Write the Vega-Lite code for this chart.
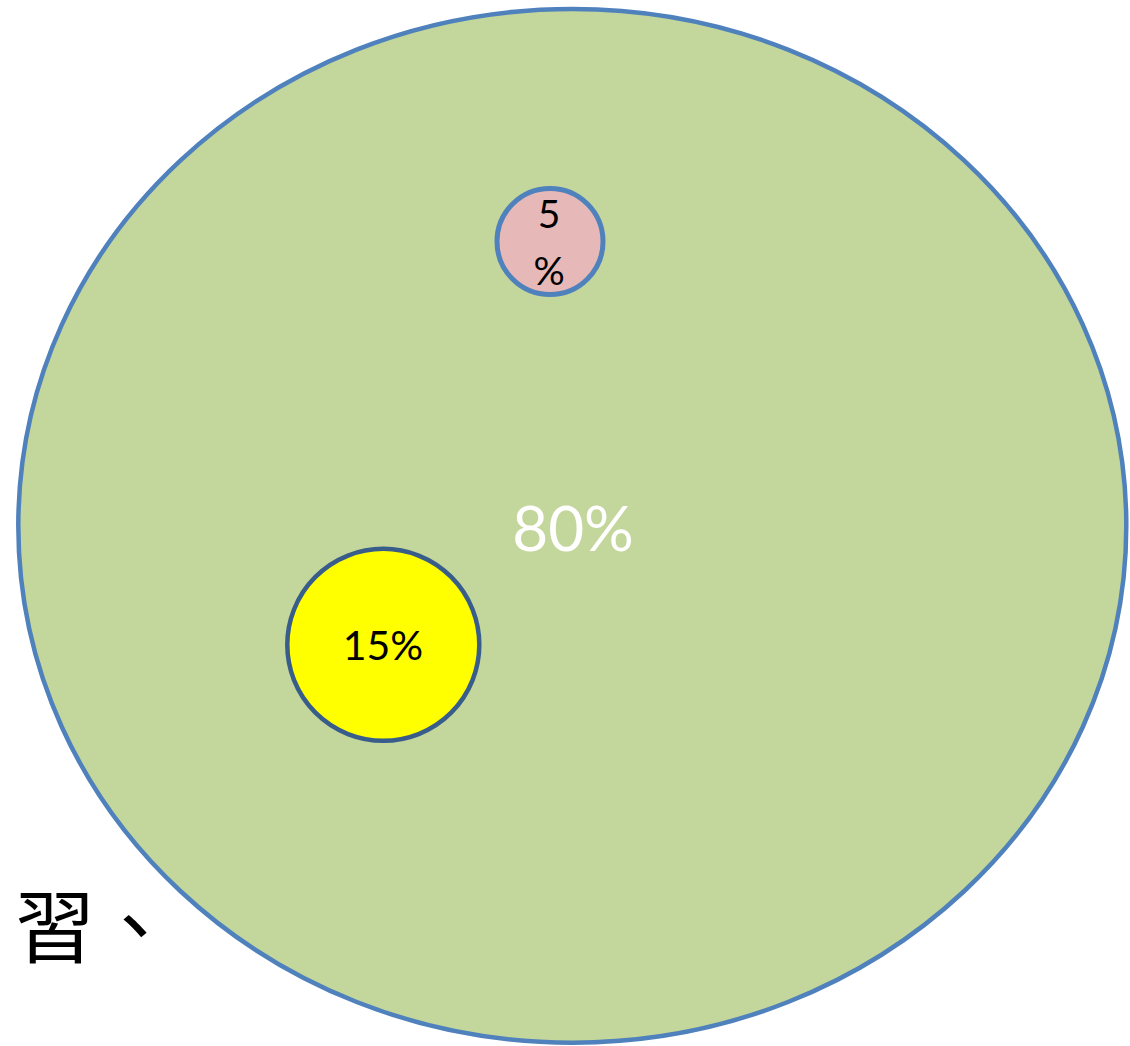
{
  "$schema": "https://vega.github.io/schema/vega-lite/v6.json",
  "width": 1130,
  "height": 1046,
  "autosize": {"type": "none"},
  "padding": 0,
  "background": "white",
  "config": {"view": {"stroke": null}},
  "datasets": {
    "outer": [{"group": "80%", "x": 572.3, "y": 525.8}],
    "pink": [{"group": "5%", "x": 550, "y": 241.5}],
    "yellow": [{"group": "15%", "x": 383.3, "y": 644.8}],
    "labels": [
      {"label": "80%", "x": 573, "y": 532},
      {"label": "15%", "x": 383, "y": 647.5}
    ],
    "small": [{"label": "5\n%", "x": 549, "y": 216}],
    "side": [{"label": "習、", "x": 175, "y": 932}]
  },
  "encoding": {
    "x": {"field": "x", "type": "quantitative", "scale": {"domain": [0, 1130], "nice": false, "zero": false}, "axis": null},
    "y": {"field": "y", "type": "quantitative", "scale": {"domain": [0, 1046], "nice": false, "zero": false, "reverse": true}, "axis": null}
  },
  "layer": [
    {
      "data": {"name": "outer"},
      "mark": {"type": "point", "shape": "M -1 0 A 1 0.9329 0 1 0 1 0 A 1 0.9329 0 1 0 -1 0 Z", "size": 1227664, "filled": true, "fill": "#C3D69B", "fillOpacity": 1, "stroke": "#4F81BD", "strokeWidth": 4.5, "opacity": 1}
    },
    {
      "data": {"name": "pink"},
      "mark": {"type": "point", "shape": "circle", "size": 11236, "filled": true, "fill": "#E6B9B8", "fillOpacity": 1, "stroke": "#4F81BD", "strokeWidth": 5, "opacity": 1}
    },
    {
      "data": {"name": "yellow"},
      "mark": {"type": "point", "shape": "circle", "size": 36864, "filled": true, "fill": "#FFFF00", "fillOpacity": 1, "stroke": "#385D8A", "strokeWidth": 4.5, "opacity": 1}
    },
    {
      "data": {"name": "labels"},
      "mark": {"type": "text", "font": "Lato", "align": "center", "baseline": "middle"},
      "encoding": {
        "text": {"field": "label"},
        "size": {"field": "label", "type": "nominal", "scale": {"domain": ["80%", "15%"], "range": [62, 41]}, "legend": null},
        "color": {"field": "label", "type": "nominal", "scale": {"domain": ["80%", "15%"], "range": ["#FFFFFF", "#000000"]}, "legend": null}
      }
    },
    {
      "data": {"name": "small"},
      "mark": {"type": "text", "font": "Lato", "fontSize": 39, "lineBreak": "\n", "lineHeight": 57, "align": "center", "baseline": "middle", "color": "#000000"},
      "encoding": {"text": {"field": "label"}}
    },
    {
      "data": {"name": "side"},
      "mark": {"type": "text", "font": "Noto Sans CJK TC", "fontSize": 80, "align": "right", "baseline": "middle", "color": "#000000"},
      "encoding": {"text": {"field": "label"}}
    }
  ]
}
